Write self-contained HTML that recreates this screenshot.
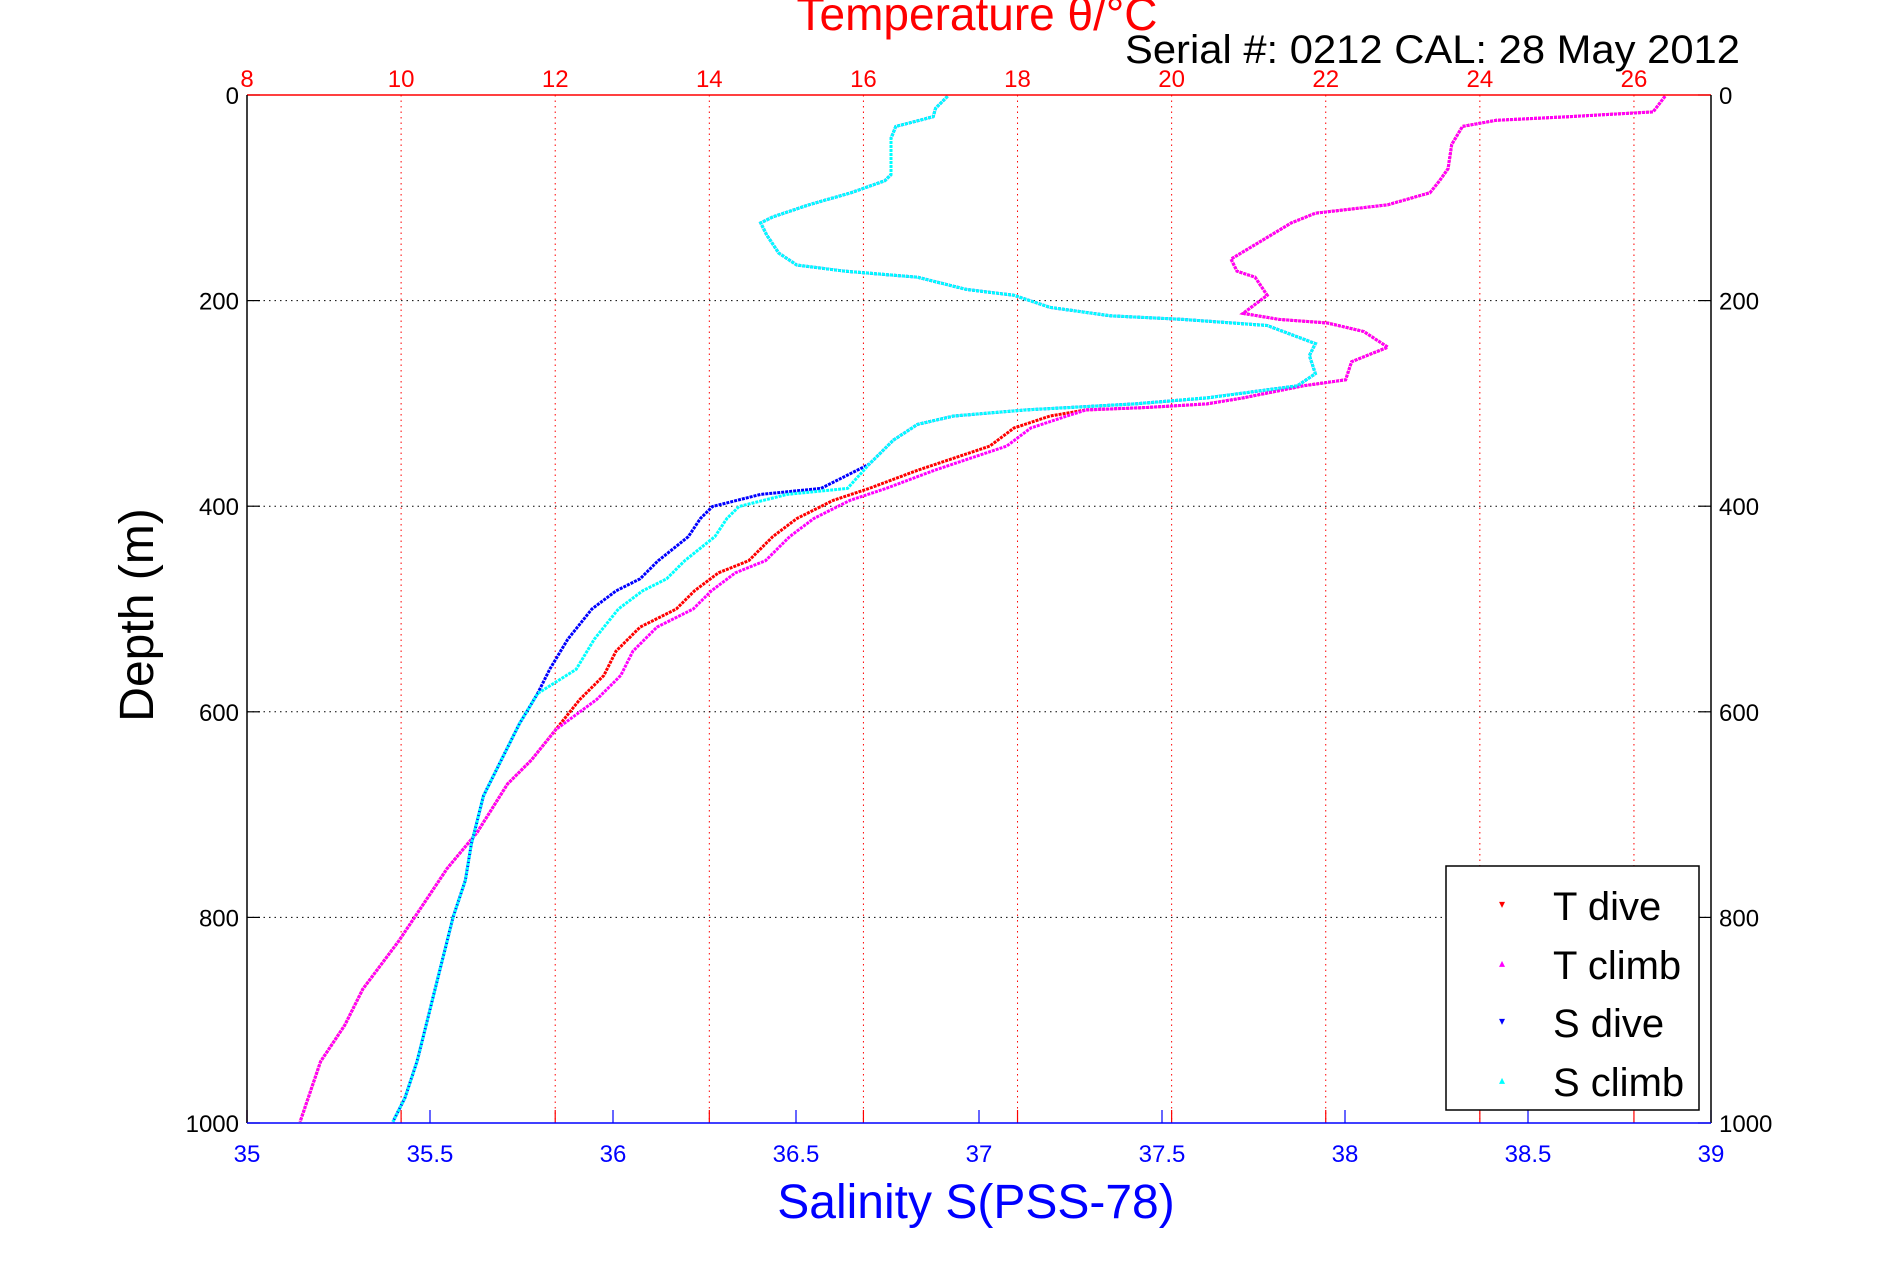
<!DOCTYPE html>
<html><head><meta charset="utf-8"><style>
html,body{margin:0;padding:0;background:#fff;}
svg{display:block;font-family:"Liberation Sans",sans-serif;}
</style></head><body>
<svg id="s" width="1891" height="1262" xmlns="http://www.w3.org/2000/svg">
<rect width="1891" height="1262" fill="#fff"/>
<g id="grid"></g>
<g id="data"></g>
<line x1="247" y1="95" x2="1711" y2="95" stroke="#f00" stroke-width="1.5"/>
<line x1="247" y1="95" x2="247" y2="1123" stroke="#000" stroke-width="1.5"/>
<line x1="1711" y1="95" x2="1711" y2="1123" stroke="#000" stroke-width="1.5"/>
<line x1="247" y1="1123" x2="1711" y2="1123" stroke="#00f" stroke-width="1.5"/>
<g id="labels" font-size="24"></g>
<text x="977" y="30" text-anchor="middle" fill="#f00" font-size="46">Temperature θ/°C</text>
<text x="1125" y="63" fill="#000" font-size="40" textLength="615" lengthAdjust="spacingAndGlyphs">Serial #: 0212  CAL: 28 May 2012</text>
<text x="976" y="1218" text-anchor="middle" fill="#00f" font-size="48">Salinity S(PSS-78)</text>
<text transform="translate(153,615) rotate(-90)" text-anchor="middle" fill="#000" font-size="48">Depth (m)</text>
<rect x="1446" y="866" width="253" height="244" fill="#fff" stroke="#000" stroke-width="1.5"/>
<g font-size="40" fill="#000">
<text x="1553" y="920">T dive</text>
<text x="1553" y="979">T climb</text>
<text x="1553" y="1037">S dive</text>
<text x="1553" y="1096">S climb</text>
</g>
<g font-size="12">
<text x="1502" y="908" fill="#f00" text-anchor="middle">▾</text>
<text x="1502" y="967" fill="#f0f" text-anchor="middle">▴</text>
<text x="1502" y="1025" fill="#00f" text-anchor="middle">▾</text>
<text x="1502" y="1084" fill="#0ff" text-anchor="middle">▴</text>
</g>
</svg>
<script>
var NS="http://www.w3.org/2000/svg";
function el(p,t,a,txt){var e=document.createElementNS(NS,t);for(var k in a)e.setAttribute(k,a[k]);if(txt!=null)e.textContent=txt;p.appendChild(e);return e;}
var g=document.getElementById("grid"),L=document.getElementById("labels"),D=document.getElementById("data");
function TX(t){return 247+(t-8)*1464/19;}
function SX(s){return 247+(s-35)*366;}
function DY(d){return 95+d*1.028;}
for(var t=8;t<=26;t+=2){var x=TX(t);
 if(t>8)el(g,"line",{x1:x,y1:95,x2:x,y2:1123,stroke:"#f00","stroke-width":1,"stroke-dasharray":"1.5,4"});
 el(g,"line",{x1:x,y1:1123,x2:x,y2:1110,stroke:"#f00","stroke-width":1.2});
 el(L,"text",{x:x,y:87,fill:"#f00","text-anchor":"middle"},t);}
for(var d=200;d<=800;d+=200){var y=DY(d);
 el(g,"line",{x1:247,y1:y,x2:1711,y2:y,stroke:"#000","stroke-width":1,"stroke-dasharray":"1.5,4"});}
for(var d=0;d<=1000;d+=200){var y=DY(d);
 el(g,"line",{x1:247,y1:y,x2:260,y2:y,stroke:"#000","stroke-width":1.2});
 el(g,"line",{x1:1698,y1:y,x2:1711,y2:y,stroke:"#000","stroke-width":1.2});
 el(L,"text",{x:239,y:y+9,fill:"#000","text-anchor":"end"},d);
 el(L,"text",{x:1719,y:y+9,fill:"#000"},d);}
for(var s=35;s<=39.001;s+=0.5){var x=SX(s);
 el(g,"line",{x1:x,y1:1123,x2:x,y2:1110,stroke:"#00f","stroke-width":1.2});
 el(L,"text",{x:x,y:1162,fill:"#00f","text-anchor":"middle"},(Math.round(s*10)/10).toString());}
function cv(p,dx){return p.map(function(q){var x=q[0];if(dx)x+=dx(q[1]);return (247+(x-204)*1.2059).toFixed(1)+","+(95+(q[1]-79)*1.2066).toFixed(1);}).join(" ");}
var T=[[1380,80],[1370,93],[1300,97],[1240,100],[1212,105],[1203,120],[1200,140],[1193,150],[1185,160],[1150,170],[1090,177],[1070,185],[1045,200],[1020,215],[1025,225],[1040,230],[1050,245],[1030,260],[1060,265],[1100,268],[1130,275],[1150,288],[1120,300],[1115,315],[1080,320],[1030,330],[1000,335],[950,338],[900,340],[870,345],[840,355],[820,370],[790,380],[760,390],[720,405],[690,415],[660,430],[640,445],[620,465],[595,475],[575,490],[560,505],[530,520],[510,540],[500,560],[480,580],[460,605],[440,630],[420,650],[395,690],[370,720],[350,750],[330,780],[300,820],[285,850],[265,880],[248,930]];
var S=[[785,80],[775,90],[773,97],[742,105],[738,115],[738,145],[733,150],[705,160],[670,170],[640,180],[630,185],[635,195],[645,210],[660,220],[700,225],[760,230],[800,240],[840,245],[870,255],[920,262],[980,265],[1050,270],[1090,285],[1085,295],[1090,310],[1075,320],[1000,330],[940,335],[850,340],[790,345],[760,352],[740,365],[720,385],[680,405],[630,410],[590,420],[580,430],[570,445],[545,465],[530,480],[510,490],[490,505],[470,530],[455,555],[445,575],[430,600],[415,630],[400,660],[390,700],[385,730],[375,760],[365,800],[355,840],[345,880],[335,910],[325,930]];
function off(a,b,v){return function(y){return (y>a&&y<b)?v:0;};}
el(D,"polyline",{points:cv(T),fill:"none",stroke:"#f00","stroke-width":3,"stroke-dasharray":"3,1"});
el(D,"polyline",{points:cv(T,off(340,600,14)),fill:"none",stroke:"#f0f","stroke-width":3,"stroke-dasharray":"3,1"});
el(D,"polyline",{points:cv(S),fill:"none",stroke:"#00f","stroke-width":3,"stroke-dasharray":"3,1"});
el(D,"polyline",{points:cv(S,off(400,560,22)),fill:"none",stroke:"#0ff","stroke-width":3,"stroke-dasharray":"3,1"});
</script>
</body></html>
